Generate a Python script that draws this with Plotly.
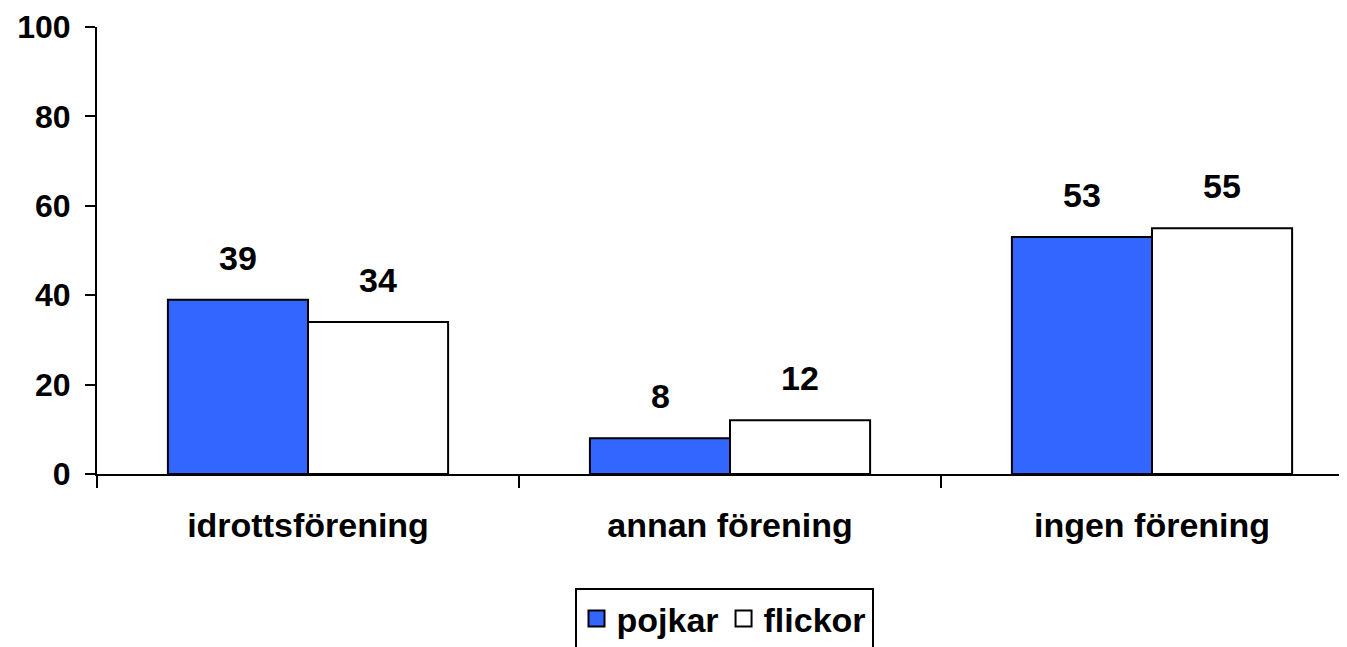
import plotly.graph_objects as go

categories = ["idrottsförening", "annan förening", "ingen förening"]
pojkar = [39, 8, 53]
flickor = [34, 12, 55]
y_ticks = [0, 20, 40, 60, 80, 100]
series_names = ["pojkar", "flickor"]
series_colors = ["#3366FF", "white"]

FONT = "Liberation Sans, Arial, sans-serif"
FS = 34
FSY = 32

fig = go.Figure()
for name, vals, col in zip(series_names, (pojkar, flickor), series_colors):
    fig.add_trace(go.Bar(name=name, x=categories, y=vals, showlegend=False,
                         marker=dict(color=col, line=dict(color="black", width=2))))
# legend entries with larger square symbols
for name, col in zip(series_names, series_colors):
    fig.add_trace(go.Scatter(name=name, x=[None], y=[None], mode="markers",
                             marker=dict(symbol="square", size=18, color=col,
                                         line=dict(color="black", width=2))))

# body margin of the html page is 8px
OFF = 8
W, H = 1347 - OFF, 647 - OFF
ml, mr, mt, mb = 97 - OFF, 0, 27 - OFF, 173
plot_w = W - ml - mr
cat_px = 422.0
xr = [-0.5, -0.5 + plot_w / cat_px]

annotations = []
for i, c in enumerate(categories):
    for vals, sh in ((pojkar, -70), (flickor, 70)):
        annotations.append(dict(x=c, y=vals[i], text=f"<b>{vals[i]}</b>", showarrow=False,
                                xshift=sh, yshift=21, yanchor="bottom",
                                font=dict(family=FONT, size=FS, color="black")))

plot_h = H - mt - mb
fig.update_layout(
    width=W, height=H,
    margin=dict(l=ml, r=mr, t=mt, b=mb, autoexpand=False),
    paper_bgcolor="white", plot_bgcolor="white",
    barmode="group", bargap=0.336, bargroupgap=0,
    font=dict(family=FONT, size=FS, color="black"),
    annotations=annotations,
    legend=dict(orientation="h", x=(724 - 97) / plot_w, xanchor="center",
                y=-(588 - 474) / plot_h, yanchor="top",
                bordercolor="black", borderwidth=2,
                font=dict(family=FONT, size=FS, color="black", weight="bold"),
                itemwidth=30, tracegroupgap=0, itemsizing="trace"),
    xaxis=dict(range=xr, showline=True, linecolor="black", linewidth=2, automargin=False,
               ticks="outside", tickson="boundaries", ticklen=12, tickwidth=2, tickcolor="black",
               tickfont=dict(family=FONT, size=FS, weight="bold"), ticklabelstandoff=20,
               showgrid=False, zeroline=False),
    yaxis=dict(range=[0, 100], tickvals=y_ticks, showline=True, linecolor="black", linewidth=2,
               automargin=False,
               ticks="outside", ticklen=10, tickwidth=2, tickcolor="black",
               tickfont=dict(family=FONT, size=FSY, weight="bold"), ticklabelstandoff=8,
               showgrid=False, zeroline=False),
)

fig.write_html("out.html")
